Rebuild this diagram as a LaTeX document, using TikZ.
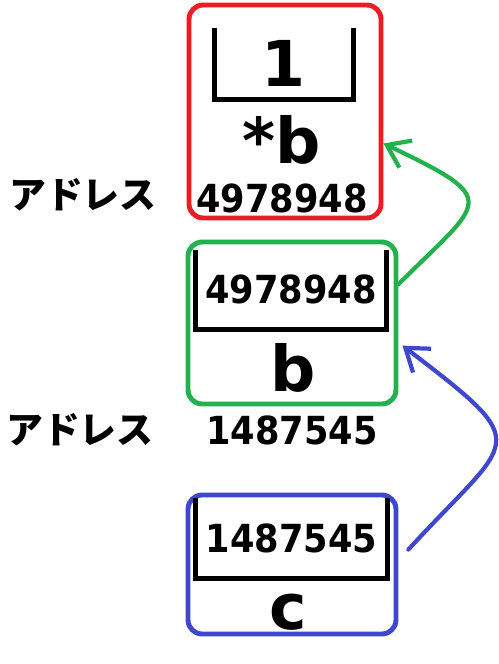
\documentclass[tikz,border=0pt]{standalone}
\usepackage{fontspec}
\setmainfont{DejaVu Sans}
\newfontfamily\numfont{DejaVu Sans}[FakeStretch=0.91]
\newfontfamily\jpfont{Noto Sans CJK JP}
\usepackage{xcolor}
\usepackage{tikz}
\usetikzlibrary{positioning, calc, arrows.meta}
\definecolor{PaintRed}{RGB}{237,28,36}
\definecolor{PaintGreen}{RGB}{34,177,76}
\definecolor{PaintBlue}{RGB}{63,72,204}
\tikzset{
    varbox/.style={
        draw=#1, line width=2.8pt, rounded corners=8pt, inner sep=0pt, anchor=center
    },
    cellnode/.style={
        inner sep=0pt, anchor=center, font=\numfont\bfseries\fontsize{22}{24}\selectfont
    },
    bigtext/.style={
        inner sep=0pt, font=\bfseries\fontsize{36}{40}\selectfont
    },
    addrnum/.style={
        inner sep=0pt, font=\numfont\bfseries\fontsize{22}{24}\selectfont
    },
    labeladdr/.style={
        inner sep=0pt, font=\jpfont\bfseries\fontsize{21}{24}\selectfont
    },
    ptr/.style={
        -{Straight Barb[length=12pt,width=17pt]}, line width=2.4pt, line cap=round
    }
}
\newcommand{\drawcell}[1]{
    \draw[line width=2.6pt] (#1.north west) -- (#1.south west) -- (#1.south east) -- (#1.north east);
}

\begin{document}
\begin{tikzpicture}[x=0.02cm, y=-0.02cm]
    \useasboundingbox (0,0) rectangle (499,664);

    % --- BIEN *b ---
    \node[varbox=PaintRed, minimum width=3.84cm, minimum height=4.26cm] (rbox) at (285,111.5) {};
    \node[cellnode, bigtext, minimum width=2.76cm, minimum height=1.42cm] (rcell) at (284,63.5) {1};
    \node[bigtext] (rname) at (282,140) {*b};
    \node[addrnum] (raddr) at (282,198) {4978948};
    \node[labeladdr] (rlabel) at (83,195) {アドレス};

    % --- BIEN b ---
    \node[varbox=PaintGreen, minimum width=4.16cm, minimum height=3.24cm] (gbox) at (292,323) {};
    \node[cellnode, minimum width=3.8cm, minimum height=1.58cm] (gcell) at (291,289.5) {4978948};
    \node[bigtext] (gname) at (293,368) {b};
    \node[addrnum] (gaddr) at (292,430) {1487545};
    \node[labeladdr] (glabel) at (80,430) {アドレス};

    % --- BIEN c ---
    \node[varbox=PaintBlue, minimum width=4.16cm, minimum height=2.78cm] (bbox) at (292,564.5) {};
    \node[cellnode, minimum width=3.82cm, minimum height=1.6cm] (bcell) at (291.5,538) {1487545};
    \node[bigtext] (bname) at (288,612) {c};

    % --- O NHO ---
    \drawcell{rcell}
    \drawcell{gcell}
    \drawcell{bcell}

    % --- CON TRO ---
    \draw[ptr, PaintGreen] (gbox.20) .. controls +(85,-85) and +(120,57) .. (rbox.-18);
    \draw[ptr, PaintBlue] ([xshift=0.2cm]bbox.8) .. controls +(105,-115) and +(135,103) .. ([xshift=0.08cm]gbox.-12);

\end{tikzpicture}
\end{document}
